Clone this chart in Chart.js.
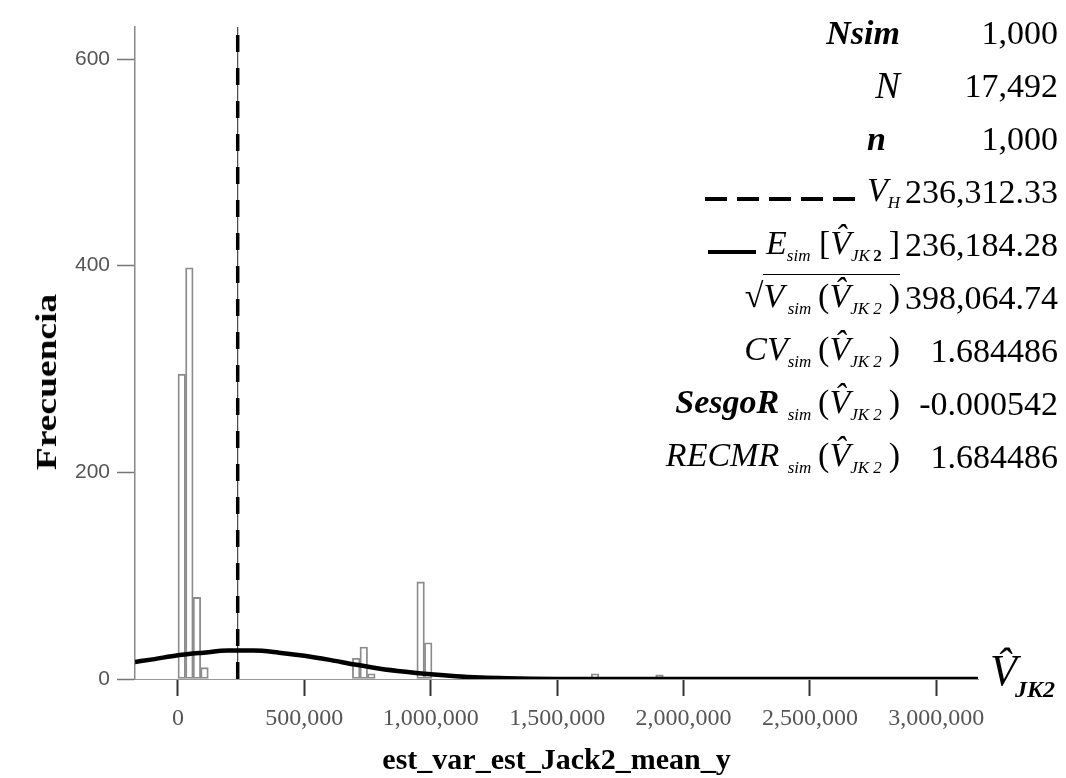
<!DOCTYPE html>
<html>
<head>
<meta charset="utf-8">
<script src="https://cdn.jsdelivr.net/npm/chart.js@4/dist/chart.umd.min.js"></script>
<style>
  body { margin: 0; background: #fff; }
  #wrap { position: relative; width: 1066px; height: 778px; overflow: hidden; }
  #c { position: absolute; left: 0; top: 0; }
  .ser { font-family: "Liberation Serif", "Times New Roman", serif; color: #000; }
  #ylab { position: absolute; left: 46px; top: 382px; font-size: 30px; font-weight: bold;
          transform: translate(-50%, -50%) rotate(-90deg) scaleX(1.25); white-space: nowrap; }
  #xend { position: absolute; left: 990px; top: 645px; font-size: 44px; font-style: italic; white-space: nowrap; }
  #xend sub { font-size: 24px; font-weight: bold; vertical-align: -12px; margin-left: -2px; }
  .row { position: absolute; right: 8px; height: 53px; display: flex; align-items: center;
         justify-content: flex-end; font-size: 34px; white-space: nowrap; }
  .row .v { display: inline-block; width: 158px; text-align: right; }
  .row sub { font-size: 17px; vertical-align: -7px; font-style: italic; }
  .dash { display: inline-block; width: 152px; height: 4px; margin-right: 10px;
          background: repeating-linear-gradient(to right, #000 0 22px, transparent 22px 32px); }
  .solid { display: inline-block; width: 48px; height: 4px; margin-right: 10px; background: #000; }
  .ov { border-top: 1.5px solid #000; padding-top: 2px; }
</style>
</head>
<body>
<div id="wrap">
  <canvas id="c" width="1066" height="778"></canvas>
  <div id="ylab" class="ser">Frecuencia</div>
  <div id="xend" class="ser">V&#770;<sub>JK2</sub></div>
  <div id="stats" class="ser"></div>
</div>
<script>
// histograma: inicio de cada clase y frecuencia
const binStarts = [0, 30000, 60000, 90000, 690000, 720000, 750000, 945000, 975000, 1635000, 1890000];
const binWidth = 30000;
const counts = [295, 398, 79, 11, 20, 31, 5, 94, 35, 5, 4];

// curva normal
const curveX = [-170000, -100000, 0, 100000, 200000, 300000, 400000, 500000, 600000, 700000,
                800000, 900000, 1000000, 1100000, 1200000, 1300000, 1400000, 1500000, 1700000, 3165000];
const curveY = [16.5, 19, 23, 25.5, 27.5, 27.5, 25.5, 22.5, 18.5, 14,
                10, 7, 4.5, 2.6, 1.4, 0.7, 0.3, 0.1, 0, 0];

const vH = 236312.33;
const xTicks = [0, 500000, 1000000, 1500000, 2000000, 2500000, 3000000];
const yTicks = [0, 200, 400, 600];
const xMin = -170000, xMax = 3165000, yMax = 631;

// tabla de resultados
const hat = '<i>V&#770;</i><sub>JK 2</sub>';
const statLabels = [
  '<b><i>Nsim</i></b>',
  '<i style="font-size:37px">N</i>',
  '<b><i style="margin-right:14px">n</i></b>',
  '<span class="dash"></span><i>V</i><sub>H</sub>',
  '<span class="solid"></span><i>E</i><sub>sim</sub>&nbsp;[<i>V&#770;</i><sub>JK&thinsp;<b style="font-style:normal">2</b></sub>&thinsp;]',
  '&radic;<span class="ov"><i>V</i><sub>&thinsp;sim</sub>&thinsp;(' + hat + '&thinsp;)</span>',
  '<i>CV</i><sub>sim</sub>&thinsp;(' + hat + '&thinsp;)',
  '<b><i>SesgoR</i></b>&nbsp;<sub>sim</sub>&thinsp;(' + hat + '&thinsp;)',
  '<i>RECMR</i>&nbsp;<sub>sim</sub>&thinsp;(' + hat + '&thinsp;)'
];
const statValues = ['1,000', '17,492', '1,000', '236,312.33', '236,184.28', '398,064.74', '1.684486', '-0.000542', '1.684486'];

const stats = document.getElementById('stats');
statLabels.forEach((lab, i) => {
  const r = document.createElement('div');
  r.className = 'row';
  r.style.top = (6 + 53 * i) + 'px';
  r.innerHTML = '<span>' + lab + '</span><span class="v">' + statValues[i] + '</span>';
  stats.appendChild(r);
});

new Chart(document.getElementById('c'), {
  type: 'bar',
  data: {
    datasets: [
      {
        type: 'line',
        data: curveX.map((x, i) => ({ x: x, y: curveY[i] })),
        borderColor: '#000',
        borderWidth: 4.5,
        pointRadius: 0,
        cubicInterpolationMode: 'monotone',
        order: 1
      },
      {
        type: 'line',
        data: [{ x: vH, y: 0 }, { x: vH, y: yMax }],
        borderColor: '#000',
        borderWidth: 3.5,
        borderDash: [17, 16],
        pointRadius: 0,
        order: 2
      },
      {
        type: 'line',
        data: [{ x: vH, y: 0 }, { x: vH, y: yMax }],
        borderColor: '#222',
        borderWidth: 1,
        pointRadius: 0,
        order: 2
      },
      {
        type: 'bar',
        data: binStarts.map((s, i) => ({ x: s + binWidth / 2, y: counts[i] })),
        backgroundColor: 'rgba(255,255,255,0)',
        borderColor: '#8c8c8c',
        borderWidth: 1.2,
        borderSkipped: false,
        barPercentage: 1,
        categoryPercentage: 1,
        order: 3
      }
    ]
  },
  options: {
    responsive: false,
    animation: false,
    layout: { padding: { top: 27, right: 88, left: 0, bottom: 0 } },
    plugins: { legend: { display: false }, tooltip: { enabled: false } },
    scales: {
      x: {
        type: 'linear',
        min: xMin,
        max: xMax,
        offset: false,
        afterBuildTicks: s => { s.ticks = xTicks.map(v => ({ value: v })); },
        afterFit: s => { s.height = 99; },
        ticks: {
          font: { family: 'Liberation Serif', size: 24 },
          color: '#555',
          padding: 8,
          maxRotation: 0,
          autoSkip: false,
          callback: v => v.toLocaleString('en-US')
        },
        grid: { drawOnChartArea: false, offset: false, tickLength: 17, color: '#333', tickWidth: 2 },
        border: { color: '#999', width: 1 },
        title: {
          display: true,
          text: 'est_var_est_Jack2_mean_y',
          color: '#000',
          font: { family: 'Liberation Serif', size: 30, weight: 'bold', lineHeight: 1 },
          padding: { top: 0, bottom: 2 }
        }
      },
      y: {
        min: 0,
        max: yMax,
        afterBuildTicks: s => { s.ticks = yTicks.map(v => ({ value: v })); },
        afterFit: s => { s.width = 135; },
        ticks: { font: { family: 'Liberation Sans', size: 21 }, color: '#555', padding: 7 },
        grid: { drawOnChartArea: false, tickLength: 18, color: '#777', tickWidth: 1.5 },
        border: { color: '#888', width: 1.5 }
      }
    }
  }
});
</script>
</body>
</html>
